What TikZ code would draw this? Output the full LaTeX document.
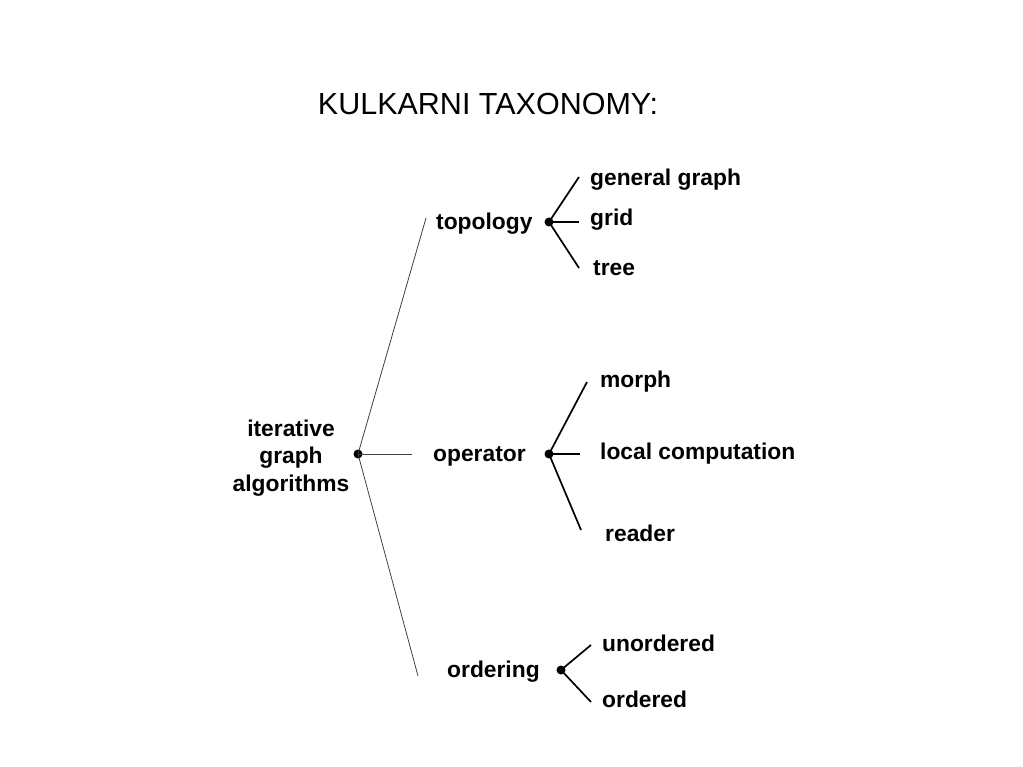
\documentclass[tikz,border=0pt]{standalone}
\usepackage{fontspec}
\setmainfont{Liberation Sans}
\begin{document}
\begin{tikzpicture}[x=1pt,y=-1pt,
	dot/.style={circle,fill=black,inner sep=0pt,minimum size=9pt},
	label/.style={inner sep=0pt,font=\bfseries\fontsize{22.8}{27.5}\selectfont},
	leaf/.style={label,anchor=west},
	trunk/.style={line width=0.8pt,black!75},
	twig/.style={line width=1.7pt}]
	\useasboundingbox (0,0) rectangle (1023,767);
	\node (title) at (488,104) {\fontsize{30.5}{36}\selectfont KULKARNI TAXONOMY:};
	% root
	\node[label,align=center] (algo) at (291,458) {iterative\\graph\\algorithms};
	\node[dot] (root) at (358,454) {};
	\coordinate (topend) at (426,218);
	\coordinate (opend) at (412,454);
	\coordinate (ordend) at (418,676);
	\draw [trunk] (root.center) -- (topend);
	\draw [trunk] (root.center) -- (opend);
	\draw [trunk] (root.center) -- (ordend);
	% topology
	\node[leaf] (topology) at (436,224) {topology};
	\node[dot] (topdot) at (549,222) {};
	\node[leaf] (general) at (590,180) {general graph};
	\node[leaf] (grid) at (590,220) {grid};
	\node[leaf] (tree) at (593,268) {tree};
	\coordinate (g1) at (579,177);
	\coordinate (g2) at (579,222);
	\coordinate (g3) at (579,268);
	\draw [twig] (topdot.center) -- (g1);
	\draw [twig] (topdot.center) -- (g2);
	\draw [twig] (topdot.center) -- (g3);
	% operator
	\node[leaf] (operator) at (433,456) {operator};
	\node[dot] (opdot) at (549,454) {};
	\node[leaf] (morph) at (600,382) {morph};
	\node[leaf] (local) at (600,454) {local computation};
	\node[leaf] (reader) at (605,533) {reader};
	\coordinate (o1) at (587,382);
	\coordinate (o2) at (580,454);
	\coordinate (o3) at (581,530);
	\draw [twig] (opdot.center) -- (o1);
	\draw [twig] (opdot.center) -- (o2);
	\draw [twig] (opdot.center) -- (o3);
	% ordering
	\node[leaf] (ordering) at (447,672) {ordering};
	\node[dot] (orddot) at (561,670) {};
	\node[leaf] (unordered) at (602,643) {unordered};
	\node[leaf] (ordered) at (602,699) {ordered};
	\coordinate (r1) at (591,645);
	\coordinate (r2) at (591,702);
	\draw [twig] (orddot.center) -- (r1);
	\draw [twig] (orddot.center) -- (r2);
\end{tikzpicture}
\end{document}
